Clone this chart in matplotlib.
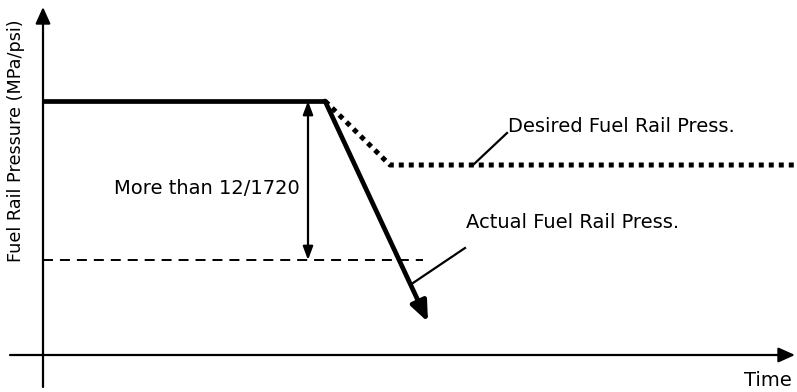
import matplotlib
matplotlib.use("Agg")
import matplotlib.pyplot as plt

plt.rcParams["font.family"] = ["DejaVu Sans"]
plt.rcParams["lines.scale_dashes"] = False

# Schematic values (time units, pressure units)
actual_t = [0.0, 28.2, 38.5]
actual_p = [25.4, 25.4, 3.3]
desired_t = [28.2, 34.7, 75.4]
desired_p = [25.4, 19.0, 19.0]
threshold_t = [0.0, 38.0]
threshold_p = 9.5
gap_t = 26.5
time_axis = [-3.3, 75.2]
pressure_axis = [-3.2, 34.8]

gap_label = "More than 12/1720"
desired_label = "Desired Fuel Rail Press."
actual_label = "Actual Fuel Rail Press."
x_label = "Time"
y_label = "Fuel Rail Pressure (MPa/psi)"

fig = plt.figure(figsize=(7.97, 3.92), dpi=100)
ax = fig.add_axes([0, 0, 1, 1])
ax.set_xlim(-4.3, 75.4)
ax.set_ylim(-3.7, 35.5)
ax.axis("off")

k = "black"
FS = 14

# Coordinate axes with arrow heads
ax.annotate("", xy=(time_axis[1], 0), xytext=(time_axis[0], 0),
            arrowprops=dict(arrowstyle="-|>,head_length=1.0,head_width=0.45",
                            color=k, lw=1.6, shrinkA=0, shrinkB=0))
ax.annotate("", xy=(0, pressure_axis[1]), xytext=(0, pressure_axis[0]),
            arrowprops=dict(arrowstyle="-|>,head_length=1.0,head_width=0.45",
                            color=k, lw=1.6, shrinkA=0, shrinkB=0))

# Desired pressure (square-dotted)
ln, = ax.plot(desired_t, desired_p, color=k, lw=3.6)
ln.set_dashes((3.6, 3.6))
ln.set_dash_capstyle("butt")

# Threshold (dashed)
ax.plot(threshold_t, [threshold_p, threshold_p], color=k, lw=1.4,
        dashes=(7.2, 5.0))

# Actual pressure: flat then falling with arrow head
ax.plot(actual_t[:2], actual_p[:2], color=k, lw=3.4, solid_capstyle="butt")
ax.annotate("", xy=(actual_t[2], actual_p[2]), xytext=(actual_t[1], actual_p[1]),
            arrowprops=dict(arrowstyle="-|>,head_length=1.2,head_width=0.5",
                            color=k, lw=3.4, shrinkA=0, shrinkB=0))

# Double arrow for pressure gap
ax.annotate("", xy=(gap_t, actual_p[0]), xytext=(gap_t, threshold_p),
            arrowprops=dict(arrowstyle="<|-|>,head_length=0.8,head_width=0.3",
                            color=k, lw=1.6, shrinkA=0, shrinkB=0))

# Labels with leader lines
ax.text(16.4, 16.7, gap_label, ha="center", va="center", fontsize=FS)
ax.plot([43.0, 46.4], [19.0, 22.2], color=k, lw=1.6)
ax.text(46.5, 22.8, desired_label, ha="left", va="center", fontsize=FS)
ax.plot([37.0, 42.2], [7.2, 10.7], color=k, lw=1.6)
ax.text(42.3, 13.3, actual_label, ha="left", va="center", fontsize=FS)
ax.text(74.9, -2.5, x_label, ha="right", va="center", fontsize=FS)
ax.text(-2.7, 21.4, y_label, ha="center", va="center", rotation=90,
        fontsize=12.7)

fig.savefig("out.png", dpi=100)
